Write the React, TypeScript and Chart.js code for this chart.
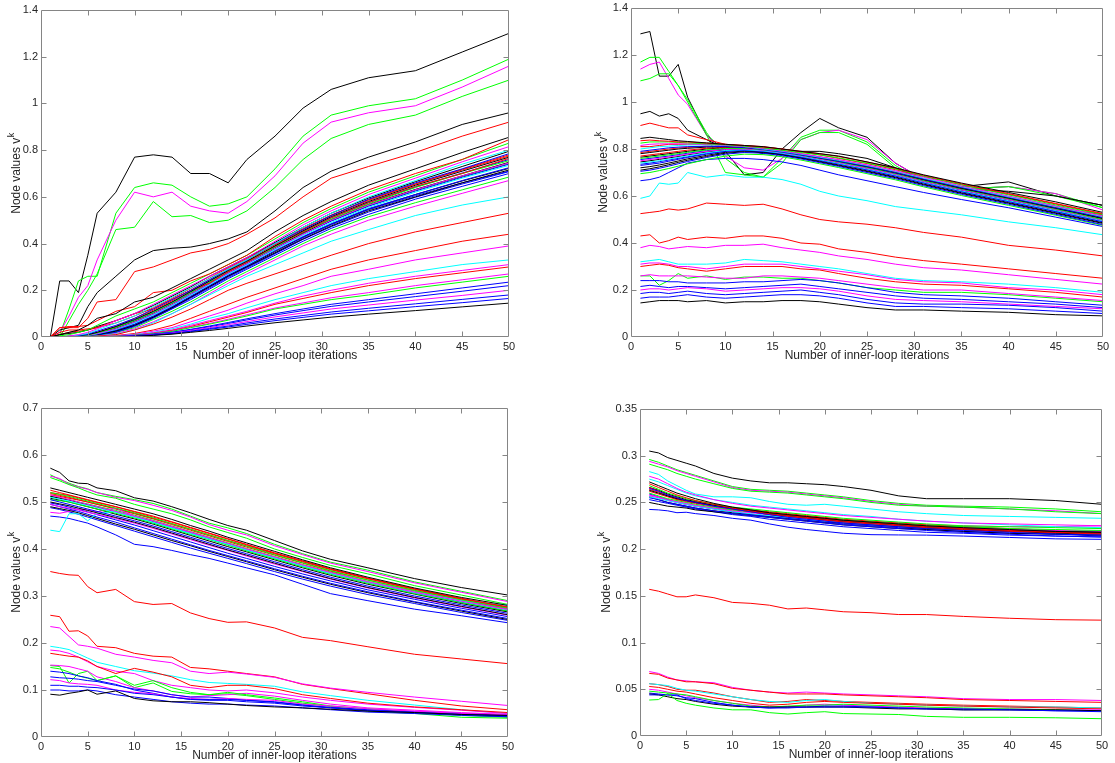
import { useEffect, useRef } from "react";
import { Chart, registerables } from "chart.js";

Chart.register(...registerables);

// Inner-loop iteration numbers at which node values are recorded
const iterations = [1, 2, 3, 4, 5, 6, 8, 10, 12, 14, 16, 18, 20, 22, 25, 28, 31, 35, 40, 45, 50];

const palette: Record<string, string> = {
  b: "#0000ff",
  g: "#00ff00",
  r: "#ff0000",
  c: "#00ffff",
  m: "#ff00ff",
  k: "#000000",
};

const xTitle = "Number of inner-loop iterations";
const yTitleMain = "Node values v";
const yTitleSup = "k";
const xTicks = { min: 0, max: 50, step: 5 };

type Line = [string, number[]];

// Panel 1 (top left): node values growing from zero
const runA: Line[] = [
  ["k", [0, 0, 0, 0, 0, 0, 0.001, 0.003, 0.007, 0.012, 0.02, 0.028, 0.037, 0.047, 0.061, 0.073, 0.085, 0.098, 0.113, 0.129, 0.145]],
  ["b", [0, 0, 0, 0, 0, 0, 0.001, 0.004, 0.008, 0.014, 0.023, 0.033, 0.043, 0.054, 0.07, 0.084, 0.098, 0.112, 0.13, 0.147, 0.165]],
  ["b", [0, 0, 0, 0, 0, 0, 0.001, 0.004, 0.009, 0.015, 0.025, 0.036, 0.047, 0.06, 0.077, 0.092, 0.107, 0.123, 0.142, 0.161, 0.18]],
  ["m", [0, 0, 0, 0, 0, 0, 0.002, 0.005, 0.01, 0.017, 0.028, 0.04, 0.053, 0.066, 0.086, 0.103, 0.12, 0.137, 0.158, 0.178, 0.2]],
  ["b", [0, 0, 0, 0, 0, 0, 0.002, 0.005, 0.011, 0.019, 0.031, 0.044, 0.058, 0.073, 0.094, 0.113, 0.131, 0.15, 0.173, 0.196, 0.22]],
  ["b", [0, 0, 0, 0, 0, 0, 0.002, 0.006, 0.012, 0.02, 0.033, 0.047, 0.062, 0.078, 0.1, 0.12, 0.14, 0.16, 0.185, 0.21, 0.235]],
  ["g", [0, 0, 0, 0, 0, 0.001, 0.003, 0.007, 0.014, 0.024, 0.04, 0.055, 0.072, 0.09, 0.12, 0.14, 0.16, 0.18, 0.21, 0.235, 0.26]],
  ["m", [0, 0, 0, 0, 0, 0.001, 0.003, 0.007, 0.015, 0.026, 0.042, 0.058, 0.076, 0.095, 0.124, 0.146, 0.168, 0.19, 0.22, 0.245, 0.27]],
  ["r", [0, 0, 0, 0, 0, 0.001, 0.003, 0.008, 0.016, 0.028, 0.045, 0.065, 0.085, 0.105, 0.14, 0.165, 0.19, 0.22, 0.25, 0.275, 0.3]],
  ["m", [0, 0, 0, 0, 0, 0.001, 0.003, 0.008, 0.018, 0.03, 0.05, 0.07, 0.09, 0.11, 0.145, 0.175, 0.2, 0.23, 0.26, 0.285, 0.31]],
  ["c", [0, 0, 0, 0, 0, 0.001, 0.004, 0.01, 0.02, 0.035, 0.055, 0.08, 0.1, 0.125, 0.16, 0.19, 0.22, 0.25, 0.28, 0.31, 0.33]],
  ["m", [0, 0, 0, 0, 0, 0.002, 0.005, 0.012, 0.025, 0.04, 0.065, 0.09, 0.115, 0.145, 0.185, 0.22, 0.26, 0.29, 0.33, 0.36, 0.39]],
  ["r", [0, 0, 0, 0, 0, 0.002, 0.006, 0.015, 0.03, 0.05, 0.08, 0.11, 0.14, 0.17, 0.21, 0.25, 0.29, 0.33, 0.37, 0.41, 0.44]],
  ["r", [0, 0, 0, 0, 0.002, 0.004, 0.01, 0.03, 0.055, 0.085, 0.12, 0.16, 0.2, 0.23, 0.27, 0.31, 0.35, 0.4, 0.45, 0.49, 0.53]],
  ["c", [0, 0, 0, 0, 0.002, 0.005, 0.012, 0.03, 0.06, 0.1, 0.14, 0.18, 0.22, 0.26, 0.31, 0.36, 0.41, 0.46, 0.52, 0.565, 0.6]],
  ["k", [0, 0.01, 0.02, 0.03, 0.05, 0.08, 0.1, 0.15, 0.17, 0.21, 0.25, 0.29, 0.33, 0.37, 0.45, 0.52, 0.58, 0.65, 0.72, 0.79, 0.855]],
  ["r", [0, 0.04, 0.045, 0.045, 0.05, 0.07, 0.11, 0.13, 0.19, 0.2, 0.24, 0.27, 0.31, 0.35, 0.43, 0.5, 0.56, 0.63, 0.7, 0.76, 0.845]],
  ["g", [0, 0.005, 0.01, 0.02, 0.03, 0.05, 0.09, 0.12, 0.15, 0.19, 0.23, 0.27, 0.31, 0.35, 0.42, 0.49, 0.55, 0.62, 0.69, 0.76, 0.83]],
  ["m", [0, 0, 0.005, 0.01, 0.02, 0.035, 0.07, 0.1, 0.14, 0.18, 0.22, 0.26, 0.3, 0.34, 0.41, 0.48, 0.54, 0.61, 0.68, 0.75, 0.815]],
  ["c", [0, 0, 0.004, 0.008, 0.015, 0.03, 0.06, 0.09, 0.13, 0.17, 0.21, 0.25, 0.29, 0.33, 0.4, 0.47, 0.53, 0.6, 0.67, 0.74, 0.8]],
  ["b", [0, 0, 0.003, 0.006, 0.012, 0.025, 0.05, 0.08, 0.12, 0.16, 0.2, 0.245, 0.29, 0.33, 0.4, 0.46, 0.52, 0.59, 0.66, 0.72, 0.785]],
  ["k", [0, 0, 0.003, 0.006, 0.01, 0.02, 0.045, 0.075, 0.11, 0.15, 0.195, 0.24, 0.285, 0.325, 0.39, 0.455, 0.515, 0.58, 0.65, 0.71, 0.77]],
  ["r", [0, 0.02, 0.03, 0.03, 0.035, 0.04, 0.07, 0.1, 0.12, 0.16, 0.2, 0.23, 0.28, 0.32, 0.39, 0.45, 0.51, 0.575, 0.645, 0.7, 0.765]],
  ["g", [0, 0, 0.002, 0.005, 0.009, 0.018, 0.04, 0.07, 0.105, 0.145, 0.19, 0.235, 0.28, 0.32, 0.385, 0.45, 0.505, 0.57, 0.64, 0.7, 0.755]],
  ["m", [0, 0, 0.002, 0.004, 0.008, 0.015, 0.035, 0.065, 0.1, 0.14, 0.185, 0.23, 0.275, 0.315, 0.38, 0.44, 0.5, 0.565, 0.63, 0.69, 0.745]],
  ["c", [0, 0, 0.002, 0.004, 0.007, 0.014, 0.032, 0.06, 0.095, 0.135, 0.18, 0.225, 0.27, 0.31, 0.375, 0.435, 0.49, 0.555, 0.62, 0.68, 0.735]],
  ["b", [0, 0, 0.001, 0.003, 0.006, 0.012, 0.03, 0.055, 0.09, 0.13, 0.175, 0.22, 0.265, 0.305, 0.37, 0.43, 0.485, 0.55, 0.61, 0.67, 0.725]],
  ["k", [0, 0, 0.001, 0.003, 0.005, 0.01, 0.025, 0.05, 0.085, 0.125, 0.17, 0.215, 0.26, 0.3, 0.36, 0.42, 0.475, 0.54, 0.6, 0.66, 0.715]],
  ["b", [0, 0, 0.001, 0.002, 0.004, 0.008, 0.02, 0.045, 0.08, 0.12, 0.16, 0.205, 0.25, 0.29, 0.35, 0.41, 0.465, 0.525, 0.59, 0.645, 0.7]],
  ["g", [0, 0, 0.001, 0.002, 0.004, 0.008, 0.02, 0.04, 0.075, 0.11, 0.15, 0.195, 0.24, 0.28, 0.34, 0.4, 0.455, 0.515, 0.575, 0.63, 0.685]],
  ["m", [0, 0, 0, 0.002, 0.003, 0.006, 0.015, 0.035, 0.065, 0.1, 0.14, 0.185, 0.23, 0.27, 0.33, 0.39, 0.44, 0.5, 0.56, 0.615, 0.67]],
  ["b", [0, 0, 0.001, 0.002, 0.004, 0.008, 0.022, 0.048, 0.085, 0.125, 0.17, 0.215, 0.26, 0.3, 0.36, 0.425, 0.48, 0.545, 0.605, 0.66, 0.71]],
  ["r", [0, 0, 0.002, 0.005, 0.01, 0.02, 0.045, 0.08, 0.115, 0.155, 0.2, 0.245, 0.29, 0.33, 0.395, 0.46, 0.52, 0.585, 0.655, 0.715, 0.775]],
  ["k", [0, 0, 0.002, 0.004, 0.008, 0.016, 0.038, 0.068, 0.102, 0.142, 0.186, 0.232, 0.277, 0.317, 0.382, 0.446, 0.502, 0.567, 0.632, 0.69, 0.748]],
  ["b", [0, 0, 0.002, 0.004, 0.007, 0.014, 0.034, 0.062, 0.097, 0.137, 0.181, 0.227, 0.272, 0.312, 0.377, 0.44, 0.496, 0.56, 0.625, 0.684, 0.74]],
  ["k", [0, 0, 0.001, 0.003, 0.006, 0.012, 0.028, 0.054, 0.088, 0.128, 0.172, 0.218, 0.263, 0.303, 0.366, 0.428, 0.483, 0.547, 0.61, 0.668, 0.722]],
  ["b", [0, 0, 0.002, 0.005, 0.009, 0.018, 0.042, 0.072, 0.108, 0.148, 0.193, 0.238, 0.283, 0.323, 0.388, 0.452, 0.51, 0.575, 0.642, 0.702, 0.76]],
  ["k", [0, 0.01, 0.015, 0.02, 0.03, 0.045, 0.07, 0.1, 0.135, 0.175, 0.215, 0.26, 0.3, 0.34, 0.405, 0.47, 0.53, 0.595, 0.665, 0.73, 0.795]],
  ["b", [0, 0, 0.001, 0.002, 0.005, 0.01, 0.026, 0.05, 0.083, 0.122, 0.166, 0.21, 0.255, 0.295, 0.356, 0.418, 0.472, 0.535, 0.598, 0.655, 0.708]],
  ["g", [0, 0, 0.002, 0.004, 0.008, 0.016, 0.036, 0.066, 0.1, 0.14, 0.184, 0.229, 0.274, 0.314, 0.378, 0.442, 0.498, 0.562, 0.628, 0.687, 0.742]],
  ["r", [0, 0.01, 0.02, 0.025, 0.03, 0.04, 0.06, 0.09, 0.125, 0.165, 0.208, 0.252, 0.296, 0.336, 0.4, 0.464, 0.522, 0.588, 0.656, 0.718, 0.78]],
  ["r", [0, 0.04, 0.04, 0.04, 0.08, 0.15, 0.16, 0.28, 0.3, 0.33, 0.36, 0.375, 0.4, 0.44, 0.51, 0.6, 0.68, 0.73, 0.79, 0.86, 0.92]],
  ["k", [0, 0.03, 0.04, 0.05, 0.13, 0.19, 0.26, 0.33, 0.37, 0.38, 0.385, 0.4, 0.42, 0.45, 0.54, 0.64, 0.71, 0.77, 0.835, 0.91, 0.96]],
  ["g", [0, 0, 0.07, 0.14, 0.2, 0.27, 0.46, 0.47, 0.58, 0.515, 0.52, 0.49, 0.5, 0.54, 0.64, 0.76, 0.85, 0.91, 0.95, 1.03, 1.1]],
  ["m", [0, 0.02, 0.09, 0.17, 0.22, 0.33, 0.5, 0.62, 0.6, 0.62, 0.56, 0.54, 0.53, 0.58, 0.69, 0.83, 0.92, 0.96, 0.99, 1.07, 1.16]],
  ["g", [0, 0.01, 0.12, 0.24, 0.26, 0.26, 0.53, 0.64, 0.66, 0.65, 0.6, 0.56, 0.57, 0.6, 0.72, 0.86, 0.95, 0.99, 1.02, 1.1, 1.19]],
  ["k", [0, 0.24, 0.24, 0.19, 0.35, 0.53, 0.62, 0.77, 0.78, 0.77, 0.7, 0.7, 0.66, 0.76, 0.86, 0.98, 1.06, 1.11, 1.14, 1.22, 1.3]],
];

// Panel 2 (top right)
const runB: Line[] = [
  ["k", [0.145, 0.15, 0.155, 0.155, 0.155, 0.15, 0.155, 0.145, 0.15, 0.15, 0.155, 0.155, 0.15, 0.14, 0.125, 0.115, 0.115, 0.11, 0.105, 0.095, 0.09]],
  ["b", [0.165, 0.17, 0.17, 0.17, 0.175, 0.18, 0.17, 0.165, 0.17, 0.175, 0.18, 0.18, 0.175, 0.165, 0.145, 0.13, 0.13, 0.125, 0.12, 0.11, 0.1]],
  ["b", [0.185, 0.19, 0.19, 0.185, 0.19, 0.195, 0.185, 0.18, 0.185, 0.19, 0.195, 0.2, 0.19, 0.18, 0.16, 0.145, 0.14, 0.14, 0.135, 0.125, 0.11]],
  ["m", [0.2, 0.205, 0.205, 0.2, 0.205, 0.21, 0.205, 0.195, 0.2, 0.205, 0.21, 0.21, 0.205, 0.195, 0.175, 0.16, 0.155, 0.15, 0.14, 0.13, 0.12]],
  ["b", [0.215, 0.22, 0.215, 0.21, 0.215, 0.215, 0.21, 0.205, 0.21, 0.215, 0.22, 0.225, 0.215, 0.205, 0.19, 0.175, 0.165, 0.16, 0.15, 0.14, 0.125]],
  ["b", [0.24, 0.24, 0.24, 0.235, 0.235, 0.23, 0.23, 0.23, 0.235, 0.235, 0.24, 0.245, 0.24, 0.23, 0.21, 0.19, 0.18, 0.175, 0.165, 0.15, 0.135]],
  ["m", [0.26, 0.265, 0.26, 0.26, 0.26, 0.26, 0.255, 0.25, 0.25, 0.26, 0.26, 0.255, 0.25, 0.24, 0.225, 0.21, 0.2, 0.2, 0.185, 0.17, 0.155]],
  ["g", [0.26, 0.26, 0.22, 0.24, 0.27, 0.25, 0.26, 0.245, 0.255, 0.255, 0.25, 0.25, 0.24, 0.23, 0.21, 0.2, 0.19, 0.19, 0.18, 0.165, 0.15]],
  ["r", [0.3, 0.305, 0.31, 0.305, 0.295, 0.29, 0.28, 0.29, 0.3, 0.3, 0.3, 0.29, 0.285, 0.27, 0.25, 0.235, 0.225, 0.22, 0.205, 0.19, 0.17]],
  ["m", [0.31, 0.315, 0.315, 0.31, 0.3, 0.3, 0.29, 0.3, 0.31, 0.31, 0.31, 0.3, 0.29, 0.28, 0.265, 0.245, 0.235, 0.23, 0.21, 0.2, 0.18]],
  ["c", [0.32, 0.325, 0.33, 0.32, 0.31, 0.31, 0.31, 0.315, 0.33, 0.325, 0.32, 0.31, 0.3, 0.29, 0.27, 0.25, 0.24, 0.235, 0.225, 0.21, 0.19]],
  ["m", [0.38, 0.39, 0.385, 0.375, 0.38, 0.385, 0.38, 0.39, 0.39, 0.395, 0.38, 0.37, 0.36, 0.345, 0.33, 0.31, 0.295, 0.285, 0.265, 0.245, 0.225]],
  ["r", [0.43, 0.435, 0.4, 0.41, 0.425, 0.415, 0.425, 0.42, 0.43, 0.43, 0.42, 0.4, 0.395, 0.375, 0.36, 0.34, 0.325, 0.31, 0.29, 0.27, 0.25]],
  ["r", [0.525, 0.53, 0.535, 0.545, 0.54, 0.545, 0.57, 0.565, 0.56, 0.565, 0.545, 0.52, 0.5, 0.49, 0.48, 0.465, 0.445, 0.425, 0.39, 0.37, 0.345]],
  ["c", [0.59, 0.6, 0.655, 0.65, 0.655, 0.7, 0.68, 0.69, 0.68, 0.68, 0.67, 0.65, 0.62, 0.6, 0.58, 0.555, 0.54, 0.52, 0.49, 0.465, 0.435]],
  ["k", [0.845, 0.85, 0.845, 0.84, 0.835, 0.832, 0.826, 0.82, 0.815, 0.81, 0.8, 0.79, 0.78, 0.77, 0.745, 0.72, 0.69, 0.655, 0.615, 0.575, 0.53]],
  ["r", [0.835, 0.838, 0.835, 0.833, 0.83, 0.83, 0.825, 0.82, 0.815, 0.808, 0.8, 0.79, 0.78, 0.768, 0.745, 0.718, 0.688, 0.652, 0.61, 0.568, 0.525]],
  ["g", [0.825, 0.83, 0.83, 0.83, 0.828, 0.826, 0.822, 0.818, 0.812, 0.805, 0.795, 0.785, 0.775, 0.762, 0.74, 0.715, 0.685, 0.648, 0.605, 0.562, 0.52]],
  ["m", [0.815, 0.82, 0.822, 0.822, 0.822, 0.822, 0.82, 0.816, 0.81, 0.802, 0.792, 0.78, 0.768, 0.755, 0.733, 0.708, 0.68, 0.643, 0.6, 0.558, 0.515]],
  ["c", [0.8, 0.805, 0.81, 0.812, 0.815, 0.817, 0.818, 0.815, 0.81, 0.8, 0.79, 0.778, 0.765, 0.752, 0.73, 0.705, 0.676, 0.64, 0.597, 0.555, 0.512]],
  ["b", [0.79, 0.795, 0.8, 0.805, 0.808, 0.81, 0.812, 0.81, 0.806, 0.798, 0.787, 0.775, 0.762, 0.748, 0.726, 0.7, 0.672, 0.636, 0.594, 0.55, 0.508]],
  ["k", [0.78, 0.785, 0.79, 0.795, 0.8, 0.803, 0.808, 0.81, 0.808, 0.8, 0.79, 0.776, 0.762, 0.748, 0.725, 0.699, 0.67, 0.633, 0.591, 0.548, 0.505]],
  ["r", [0.77, 0.775, 0.78, 0.785, 0.79, 0.795, 0.803, 0.807, 0.806, 0.8, 0.79, 0.777, 0.763, 0.749, 0.726, 0.7, 0.67, 0.634, 0.592, 0.552, 0.51]],
  ["g", [0.76, 0.765, 0.77, 0.775, 0.78, 0.786, 0.796, 0.802, 0.803, 0.797, 0.787, 0.774, 0.76, 0.745, 0.722, 0.696, 0.666, 0.63, 0.588, 0.545, 0.5]],
  ["m", [0.75, 0.755, 0.76, 0.766, 0.772, 0.778, 0.79, 0.798, 0.8, 0.795, 0.785, 0.772, 0.757, 0.742, 0.718, 0.692, 0.662, 0.626, 0.584, 0.542, 0.497]],
  ["c", [0.74, 0.745, 0.75, 0.757, 0.764, 0.771, 0.784, 0.794, 0.797, 0.792, 0.782, 0.769, 0.754, 0.739, 0.715, 0.689, 0.659, 0.622, 0.58, 0.538, 0.494]],
  ["b", [0.73, 0.735, 0.74, 0.748, 0.756, 0.764, 0.778, 0.79, 0.794, 0.79, 0.78, 0.766, 0.751, 0.736, 0.711, 0.685, 0.655, 0.618, 0.576, 0.533, 0.49]],
  ["k", [0.72, 0.725, 0.732, 0.74, 0.749, 0.758, 0.773, 0.786, 0.791, 0.787, 0.777, 0.763, 0.748, 0.732, 0.707, 0.681, 0.651, 0.614, 0.572, 0.529, 0.486]],
  ["b", [0.705, 0.71, 0.718, 0.727, 0.737, 0.747, 0.764, 0.778, 0.785, 0.782, 0.772, 0.758, 0.742, 0.726, 0.7, 0.674, 0.644, 0.607, 0.565, 0.522, 0.478]],
  ["g", [0.695, 0.7, 0.708, 0.717, 0.727, 0.737, 0.755, 0.77, 0.778, 0.776, 0.767, 0.753, 0.737, 0.721, 0.695, 0.669, 0.639, 0.602, 0.56, 0.518, 0.475]],
  ["b", [0.665, 0.67, 0.68, 0.7, 0.72, 0.74, 0.755, 0.76, 0.76, 0.755, 0.745, 0.73, 0.71, 0.69, 0.665, 0.64, 0.615, 0.585, 0.55, 0.51, 0.47]],
  ["r", [0.81, 0.81, 0.815, 0.82, 0.82, 0.82, 0.82, 0.818, 0.815, 0.81, 0.8, 0.788, 0.775, 0.76, 0.738, 0.712, 0.683, 0.648, 0.607, 0.566, 0.522]],
  ["k", [0.765, 0.77, 0.775, 0.78, 0.785, 0.79, 0.8, 0.806, 0.806, 0.8, 0.79, 0.776, 0.762, 0.747, 0.724, 0.698, 0.668, 0.632, 0.59, 0.547, 0.503]],
  ["b", [0.755, 0.76, 0.765, 0.77, 0.776, 0.782, 0.793, 0.8, 0.801, 0.796, 0.786, 0.772, 0.758, 0.743, 0.72, 0.694, 0.664, 0.628, 0.586, 0.543, 0.499]],
  ["k", [0.745, 0.75, 0.756, 0.762, 0.768, 0.775, 0.787, 0.796, 0.798, 0.793, 0.783, 0.77, 0.755, 0.74, 0.716, 0.69, 0.66, 0.624, 0.582, 0.539, 0.495]],
  ["b", [0.735, 0.74, 0.746, 0.753, 0.76, 0.767, 0.781, 0.792, 0.795, 0.79, 0.78, 0.767, 0.752, 0.737, 0.713, 0.687, 0.657, 0.62, 0.578, 0.535, 0.492]],
  ["r", [0.785, 0.79, 0.795, 0.8, 0.804, 0.807, 0.812, 0.813, 0.81, 0.803, 0.793, 0.78, 0.766, 0.752, 0.729, 0.703, 0.674, 0.638, 0.596, 0.556, 0.514]],
  ["k", [0.71, 0.716, 0.724, 0.733, 0.743, 0.752, 0.768, 0.782, 0.788, 0.785, 0.775, 0.761, 0.745, 0.729, 0.704, 0.678, 0.648, 0.611, 0.569, 0.526, 0.483]],
  ["r", [0.9, 0.91, 0.9, 0.89, 0.89, 0.86, 0.84, 0.82, 0.81, 0.8, 0.79, 0.77, 0.76, 0.75, 0.73, 0.7, 0.66, 0.62, 0.58, 0.55, 0.52]],
  ["k", [0.95, 0.96, 0.94, 0.95, 0.93, 0.88, 0.84, 0.8, 0.8, 0.78, 0.78, 0.79, 0.79, 0.78, 0.76, 0.72, 0.67, 0.63, 0.62, 0.6, 0.56]],
  ["g", [1.09, 1.1, 1.12, 1.12, 1.07, 1.0, 0.86, 0.7, 0.69, 0.68, 0.74, 0.84, 0.87, 0.87, 0.82, 0.72, 0.66, 0.63, 0.64, 0.6, 0.55]],
  ["m", [1.14, 1.16, 1.17, 1.1, 1.03, 0.99, 0.86, 0.77, 0.72, 0.71, 0.76, 0.84, 0.87, 0.88, 0.84, 0.74, 0.67, 0.63, 0.64, 0.61, 0.54]],
  ["g", [1.17, 1.19, 1.19, 1.13, 1.07, 1.01, 0.87, 0.76, 0.7, 0.68, 0.76, 0.85, 0.88, 0.88, 0.83, 0.73, 0.66, 0.63, 0.64, 0.61, 0.55]],
  ["k", [1.29, 1.3, 1.11, 1.11, 1.16, 1.02, 0.86, 0.79, 0.69, 0.7, 0.8, 0.87, 0.93, 0.89, 0.85, 0.74, 0.67, 0.64, 0.66, 0.6, 0.56]],
];

// Panel 3 (bottom left)
const runC: Line[] = [
  ["k", [0.091, 0.089, 0.093, 0.096, 0.1, 0.091, 0.098, 0.082, 0.077, 0.075, 0.075, 0.073, 0.07, 0.067, 0.064, 0.062, 0.059, 0.055, 0.052, 0.048, 0.046]],
  ["b", [0.1, 0.1, 0.098, 0.098, 0.1, 0.098, 0.09, 0.085, 0.08, 0.075, 0.072, 0.07, 0.07, 0.068, 0.066, 0.062, 0.058, 0.053, 0.05, 0.046, 0.043]],
  ["b", [0.11, 0.11, 0.108, 0.108, 0.106, 0.105, 0.1, 0.093, 0.09, 0.085, 0.08, 0.08, 0.08, 0.078, 0.075, 0.068, 0.062, 0.057, 0.052, 0.048, 0.044]],
  ["m", [0.122, 0.12, 0.115, 0.113, 0.112, 0.11, 0.1, 0.095, 0.092, 0.085, 0.082, 0.08, 0.082, 0.08, 0.078, 0.07, 0.066, 0.06, 0.055, 0.05, 0.048]],
  ["b", [0.128, 0.126, 0.125, 0.123, 0.12, 0.118, 0.11, 0.102, 0.098, 0.09, 0.085, 0.085, 0.082, 0.078, 0.074, 0.068, 0.063, 0.058, 0.054, 0.05, 0.046]],
  ["b", [0.14, 0.138, 0.135, 0.13, 0.126, 0.12, 0.112, 0.1, 0.093, 0.085, 0.08, 0.078, 0.078, 0.075, 0.072, 0.066, 0.062, 0.056, 0.052, 0.048, 0.045]],
  ["g", [0.148, 0.145, 0.138, 0.13, 0.125, 0.12, 0.13, 0.11, 0.12, 0.105, 0.095, 0.09, 0.095, 0.09, 0.083, 0.075, 0.066, 0.06, 0.053, 0.046, 0.042]],
  ["m", [0.153, 0.152, 0.15, 0.145, 0.14, 0.128, 0.118, 0.105, 0.098, 0.09, 0.085, 0.088, 0.09, 0.093, 0.087, 0.078, 0.07, 0.062, 0.057, 0.052, 0.048]],
  ["g", [0.152, 0.15, 0.115, 0.135, 0.14, 0.12, 0.13, 0.105, 0.115, 0.097, 0.092, 0.09, 0.092, 0.088, 0.08, 0.072, 0.065, 0.055, 0.05, 0.042, 0.04]],
  ["r", [0.178, 0.175, 0.172, 0.17, 0.162, 0.15, 0.135, 0.146, 0.138, 0.128, 0.11, 0.105, 0.11, 0.11, 0.103, 0.09, 0.082, 0.072, 0.064, 0.058, 0.052]],
  ["m", [0.185, 0.183, 0.178, 0.17, 0.16, 0.15, 0.14, 0.135, 0.12, 0.11, 0.105, 0.1, 0.098, 0.1, 0.094, 0.085, 0.078, 0.07, 0.063, 0.057, 0.05]],
  ["c", [0.193, 0.19, 0.186, 0.177, 0.168, 0.159, 0.15, 0.141, 0.136, 0.13, 0.122, 0.116, 0.114, 0.112, 0.108, 0.096, 0.088, 0.078, 0.068, 0.058, 0.05]],
  ["m", [0.235, 0.232, 0.214, 0.196, 0.193, 0.189, 0.176, 0.17, 0.163, 0.158, 0.14, 0.135, 0.138, 0.134, 0.127, 0.113, 0.104, 0.095, 0.085, 0.076, 0.067]],
  ["r", [0.259, 0.256, 0.225, 0.226, 0.215, 0.193, 0.19, 0.178, 0.172, 0.17, 0.148, 0.145, 0.14, 0.135, 0.128, 0.112, 0.103, 0.092, 0.078, 0.066, 0.058]],
  ["r", [0.352, 0.348, 0.345, 0.344, 0.32, 0.307, 0.314, 0.288, 0.282, 0.284, 0.264, 0.252, 0.244, 0.245, 0.232, 0.212, 0.205, 0.192, 0.176, 0.166, 0.156]],
  ["k", [0.53, 0.525, 0.52, 0.515, 0.51, 0.505, 0.495, 0.485, 0.475, 0.463, 0.45, 0.438, 0.425, 0.413, 0.395, 0.377, 0.36, 0.34, 0.317, 0.297, 0.28]],
  ["r", [0.525, 0.52, 0.515, 0.51, 0.505, 0.5, 0.49, 0.48, 0.47, 0.458, 0.446, 0.434, 0.422, 0.41, 0.392, 0.375, 0.358, 0.338, 0.315, 0.294, 0.277]],
  ["g", [0.52, 0.516, 0.512, 0.507, 0.502, 0.497, 0.487, 0.477, 0.466, 0.454, 0.442, 0.43, 0.418, 0.406, 0.388, 0.371, 0.354, 0.334, 0.312, 0.292, 0.274]],
  ["m", [0.515, 0.51, 0.505, 0.5, 0.495, 0.49, 0.48, 0.47, 0.46, 0.448, 0.436, 0.424, 0.412, 0.4, 0.383, 0.366, 0.35, 0.33, 0.308, 0.289, 0.271]],
  ["c", [0.51, 0.506, 0.502, 0.497, 0.493, 0.488, 0.478, 0.468, 0.457, 0.445, 0.433, 0.421, 0.41, 0.398, 0.381, 0.364, 0.348, 0.329, 0.307, 0.288, 0.27]],
  ["b", [0.505, 0.5, 0.495, 0.49, 0.485, 0.48, 0.47, 0.46, 0.449, 0.437, 0.425, 0.413, 0.401, 0.39, 0.373, 0.356, 0.34, 0.321, 0.3, 0.281, 0.263]],
  ["k", [0.5, 0.496, 0.492, 0.487, 0.482, 0.477, 0.467, 0.457, 0.446, 0.434, 0.422, 0.41, 0.398, 0.387, 0.37, 0.353, 0.337, 0.318, 0.297, 0.278, 0.26]],
  ["r", [0.52, 0.517, 0.514, 0.509, 0.504, 0.499, 0.49, 0.479, 0.468, 0.457, 0.445, 0.433, 0.421, 0.409, 0.391, 0.374, 0.357, 0.337, 0.315, 0.295, 0.276]],
  ["g", [0.505, 0.503, 0.5, 0.495, 0.49, 0.485, 0.476, 0.466, 0.455, 0.443, 0.431, 0.42, 0.408, 0.396, 0.379, 0.362, 0.346, 0.327, 0.305, 0.286, 0.268]],
  ["m", [0.495, 0.49, 0.487, 0.483, 0.478, 0.474, 0.465, 0.455, 0.444, 0.432, 0.42, 0.408, 0.397, 0.385, 0.368, 0.352, 0.336, 0.317, 0.296, 0.277, 0.259]],
  ["c", [0.44, 0.437, 0.475, 0.475, 0.46, 0.475, 0.48, 0.468, 0.455, 0.445, 0.433, 0.421, 0.41, 0.398, 0.381, 0.364, 0.349, 0.33, 0.308, 0.29, 0.28]],
  ["b", [0.495, 0.49, 0.485, 0.48, 0.474, 0.468, 0.457, 0.445, 0.433, 0.421, 0.409, 0.397, 0.386, 0.375, 0.358, 0.342, 0.327, 0.309, 0.288, 0.27, 0.252]],
  ["k", [0.49, 0.486, 0.482, 0.477, 0.471, 0.465, 0.453, 0.442, 0.43, 0.418, 0.407, 0.395, 0.384, 0.373, 0.356, 0.34, 0.325, 0.307, 0.287, 0.268, 0.25]],
  ["b", [0.47, 0.468, 0.465, 0.46, 0.455, 0.447, 0.43, 0.41, 0.405, 0.397, 0.388, 0.38, 0.37, 0.36, 0.345, 0.325, 0.305, 0.29, 0.272, 0.258, 0.243]],
  ["m", [0.478, 0.476, 0.48, 0.485, 0.483, 0.479, 0.487, 0.47, 0.457, 0.447, 0.435, 0.423, 0.411, 0.399, 0.382, 0.365, 0.349, 0.33, 0.309, 0.29, 0.273]],
  ["r", [0.515, 0.512, 0.508, 0.504, 0.5, 0.495, 0.486, 0.476, 0.465, 0.454, 0.442, 0.43, 0.418, 0.407, 0.39, 0.373, 0.356, 0.337, 0.314, 0.294, 0.275]],
  ["k", [0.512, 0.508, 0.504, 0.499, 0.494, 0.489, 0.479, 0.469, 0.458, 0.446, 0.434, 0.422, 0.41, 0.398, 0.381, 0.364, 0.348, 0.329, 0.307, 0.287, 0.268]],
  ["b", [0.498, 0.494, 0.489, 0.484, 0.479, 0.473, 0.462, 0.451, 0.439, 0.427, 0.415, 0.403, 0.391, 0.38, 0.363, 0.347, 0.332, 0.313, 0.293, 0.274, 0.256]],
  ["k", [0.508, 0.504, 0.5, 0.495, 0.49, 0.485, 0.474, 0.464, 0.453, 0.441, 0.429, 0.417, 0.405, 0.394, 0.377, 0.36, 0.344, 0.325, 0.304, 0.284, 0.266]],
  ["b", [0.488, 0.484, 0.479, 0.474, 0.468, 0.462, 0.45, 0.438, 0.426, 0.414, 0.402, 0.391, 0.38, 0.369, 0.352, 0.336, 0.321, 0.303, 0.284, 0.265, 0.248]],
  ["r", [0.518, 0.514, 0.51, 0.505, 0.5, 0.495, 0.485, 0.475, 0.464, 0.452, 0.44, 0.428, 0.416, 0.404, 0.387, 0.37, 0.353, 0.334, 0.312, 0.292, 0.273]],
  ["g", [0.512, 0.509, 0.505, 0.5, 0.496, 0.491, 0.482, 0.472, 0.461, 0.449, 0.437, 0.425, 0.413, 0.401, 0.384, 0.367, 0.351, 0.331, 0.31, 0.29, 0.272]],
  ["g", [0.552, 0.545, 0.537, 0.53, 0.522, 0.515, 0.508, 0.495, 0.485, 0.475, 0.462, 0.447, 0.435, 0.423, 0.4, 0.382, 0.365, 0.347, 0.322, 0.302, 0.282]],
  ["m", [0.555, 0.55, 0.538, 0.532, 0.527, 0.52, 0.51, 0.503, 0.493, 0.482, 0.468, 0.452, 0.44, 0.43, 0.407, 0.388, 0.37, 0.352, 0.328, 0.308, 0.288]],
  ["g", [0.558, 0.548, 0.54, 0.533, 0.528, 0.52, 0.512, 0.505, 0.497, 0.485, 0.47, 0.455, 0.445, 0.433, 0.41, 0.39, 0.372, 0.355, 0.33, 0.31, 0.29]],
  ["k", [0.572, 0.563, 0.545, 0.54, 0.539, 0.53, 0.524, 0.509, 0.502, 0.49, 0.477, 0.463, 0.45, 0.44, 0.418, 0.396, 0.378, 0.36, 0.337, 0.318, 0.302]],
];

// Panel 4 (bottom right)
const runD: Line[] = [
  ["g", [0.0385, 0.039, 0.0455, 0.038, 0.035, 0.033, 0.03, 0.028, 0.028, 0.025, 0.0235, 0.025, 0.026, 0.024, 0.0235, 0.023, 0.021, 0.02, 0.02, 0.0195, 0.0185]],
  ["b", [0.044, 0.044, 0.044, 0.044, 0.04, 0.038, 0.035, 0.033, 0.031, 0.03, 0.03, 0.031, 0.031, 0.031, 0.031, 0.03, 0.029, 0.029, 0.028, 0.027, 0.026]],
  ["k", [0.045, 0.044, 0.042, 0.04, 0.039, 0.037, 0.034, 0.032, 0.031, 0.031, 0.031, 0.031, 0.031, 0.031, 0.03, 0.029, 0.029, 0.028, 0.028, 0.028, 0.027]],
  ["b", [0.046, 0.045, 0.044, 0.043, 0.041, 0.04, 0.036, 0.033, 0.031, 0.03, 0.031, 0.031, 0.032, 0.032, 0.031, 0.03, 0.029, 0.028, 0.028, 0.027, 0.027]],
  ["g", [0.048, 0.047, 0.046, 0.045, 0.044, 0.042, 0.038, 0.035, 0.032, 0.031, 0.032, 0.033, 0.033, 0.034, 0.033, 0.032, 0.031, 0.03, 0.029, 0.028, 0.027]],
  ["m", [0.05, 0.049, 0.047, 0.045, 0.043, 0.041, 0.038, 0.035, 0.033, 0.031, 0.031, 0.033, 0.034, 0.033, 0.032, 0.031, 0.03, 0.029, 0.029, 0.028, 0.028]],
  ["r", [0.053, 0.052, 0.05, 0.048, 0.047, 0.045, 0.041, 0.038, 0.035, 0.033, 0.034, 0.036, 0.037, 0.036, 0.035, 0.034, 0.033, 0.032, 0.031, 0.03, 0.029]],
  ["c", [0.056, 0.055, 0.054, 0.051, 0.049, 0.048, 0.045, 0.042, 0.039, 0.037, 0.036, 0.038, 0.039, 0.037, 0.035, 0.034, 0.033, 0.032, 0.031, 0.031, 0.03]],
  ["r", [0.056, 0.055, 0.053, 0.05, 0.049, 0.049, 0.046, 0.042, 0.039, 0.036, 0.037, 0.039, 0.038, 0.037, 0.036, 0.035, 0.034, 0.033, 0.032, 0.031, 0.03]],
  ["r", [0.067, 0.066, 0.062, 0.06, 0.058, 0.058, 0.056, 0.051, 0.049, 0.047, 0.045, 0.045, 0.045, 0.044, 0.043, 0.042, 0.041, 0.039, 0.038, 0.037, 0.036]],
  ["m", [0.069, 0.067, 0.063, 0.06, 0.059, 0.058, 0.057, 0.052, 0.049, 0.047, 0.046, 0.047, 0.046, 0.045, 0.044, 0.043, 0.042, 0.04, 0.039, 0.039, 0.038]],
  ["r", [0.157, 0.155, 0.152, 0.149, 0.149, 0.151, 0.148, 0.143, 0.142, 0.14, 0.136, 0.137, 0.135, 0.133, 0.132, 0.13, 0.13, 0.128, 0.126, 0.1245, 0.124]],
  ["k", [0.272, 0.268, 0.264, 0.26, 0.257, 0.254, 0.249, 0.245, 0.242, 0.239, 0.237, 0.235, 0.233, 0.231, 0.229, 0.227, 0.225, 0.223, 0.221, 0.219, 0.218]],
  ["r", [0.27, 0.266, 0.262, 0.258, 0.255, 0.252, 0.248, 0.244, 0.241, 0.238, 0.236, 0.234, 0.232, 0.23, 0.228, 0.226, 0.224, 0.222, 0.22, 0.218, 0.217]],
  ["g", [0.268, 0.264, 0.26, 0.257, 0.254, 0.252, 0.248, 0.245, 0.243, 0.241, 0.239, 0.237, 0.235, 0.233, 0.231, 0.229, 0.227, 0.225, 0.224, 0.223, 0.222]],
  ["m", [0.278, 0.275, 0.27, 0.265, 0.261, 0.258, 0.253, 0.249, 0.246, 0.244, 0.242, 0.24, 0.238, 0.236, 0.234, 0.232, 0.23, 0.228, 0.227, 0.226, 0.225]],
  ["c", [0.275, 0.272, 0.268, 0.264, 0.26, 0.257, 0.253, 0.25, 0.247, 0.245, 0.243, 0.241, 0.239, 0.237, 0.235, 0.232, 0.23, 0.228, 0.226, 0.224, 0.223]],
  ["b", [0.265, 0.262, 0.258, 0.255, 0.252, 0.25, 0.246, 0.243, 0.24, 0.237, 0.234, 0.232, 0.23, 0.228, 0.226, 0.224, 0.222, 0.22, 0.218, 0.216, 0.215]],
  ["k", [0.263, 0.26, 0.257, 0.254, 0.252, 0.25, 0.247, 0.244, 0.241, 0.238, 0.236, 0.234, 0.232, 0.23, 0.228, 0.226, 0.224, 0.222, 0.22, 0.219, 0.218]],
  ["r", [0.262, 0.259, 0.256, 0.253, 0.251, 0.249, 0.246, 0.243, 0.24, 0.237, 0.235, 0.233, 0.231, 0.229, 0.227, 0.225, 0.223, 0.221, 0.219, 0.218, 0.216]],
  ["g", [0.26, 0.257, 0.254, 0.252, 0.25, 0.248, 0.245, 0.242, 0.24, 0.238, 0.236, 0.234, 0.232, 0.231, 0.229, 0.227, 0.225, 0.224, 0.222, 0.221, 0.22]],
  ["m", [0.258, 0.256, 0.253, 0.251, 0.249, 0.247, 0.244, 0.241, 0.239, 0.237, 0.235, 0.233, 0.231, 0.23, 0.228, 0.226, 0.224, 0.223, 0.221, 0.22, 0.219]],
  ["c", [0.256, 0.254, 0.252, 0.25, 0.248, 0.246, 0.243, 0.24, 0.238, 0.236, 0.234, 0.232, 0.23, 0.229, 0.227, 0.225, 0.224, 0.222, 0.221, 0.22, 0.219]],
  ["b", [0.255, 0.253, 0.25, 0.248, 0.246, 0.244, 0.241, 0.238, 0.236, 0.234, 0.232, 0.23, 0.228, 0.226, 0.224, 0.222, 0.22, 0.218, 0.216, 0.214, 0.213]],
  ["k", [0.25, 0.248, 0.246, 0.245, 0.244, 0.242, 0.24, 0.238, 0.236, 0.234, 0.232, 0.23, 0.228, 0.226, 0.224, 0.222, 0.221, 0.219, 0.217, 0.216, 0.215]],
  ["b", [0.253, 0.251, 0.249, 0.247, 0.245, 0.243, 0.24, 0.237, 0.235, 0.232, 0.23, 0.228, 0.226, 0.224, 0.222, 0.22, 0.218, 0.217, 0.215, 0.214, 0.213]],
  ["r", [0.266, 0.262, 0.258, 0.255, 0.252, 0.25, 0.247, 0.244, 0.242, 0.24, 0.238, 0.236, 0.234, 0.232, 0.23, 0.228, 0.226, 0.224, 0.222, 0.22, 0.219]],
  ["m", [0.257, 0.255, 0.252, 0.25, 0.248, 0.246, 0.244, 0.242, 0.24, 0.238, 0.236, 0.234, 0.233, 0.231, 0.229, 0.228, 0.226, 0.225, 0.224, 0.224, 0.225]],
  ["k", [0.266, 0.263, 0.259, 0.256, 0.253, 0.251, 0.247, 0.243, 0.24, 0.237, 0.235, 0.233, 0.231, 0.229, 0.227, 0.225, 0.223, 0.221, 0.219, 0.217, 0.216]],
  ["b", [0.259, 0.256, 0.253, 0.25, 0.248, 0.246, 0.243, 0.24, 0.237, 0.235, 0.233, 0.231, 0.229, 0.227, 0.225, 0.223, 0.221, 0.219, 0.217, 0.216, 0.214]],
  ["r", [0.264, 0.261, 0.257, 0.254, 0.252, 0.25, 0.246, 0.243, 0.241, 0.239, 0.237, 0.235, 0.233, 0.231, 0.229, 0.227, 0.225, 0.223, 0.221, 0.22, 0.218]],
  ["k", [0.256, 0.253, 0.25, 0.248, 0.246, 0.244, 0.241, 0.239, 0.237, 0.235, 0.233, 0.231, 0.229, 0.228, 0.226, 0.224, 0.222, 0.221, 0.219, 0.218, 0.217]],
  ["b", [0.2425, 0.242, 0.241, 0.239, 0.2395, 0.238, 0.236, 0.233, 0.231, 0.227, 0.2235, 0.221, 0.219, 0.217, 0.2155, 0.2152, 0.215, 0.214, 0.2125, 0.211, 0.2105]],
  ["c", [0.283, 0.28, 0.273, 0.268, 0.263, 0.259, 0.256, 0.256, 0.255, 0.251, 0.248, 0.247, 0.248, 0.246, 0.243, 0.24, 0.238, 0.236, 0.235, 0.234, 0.233]],
  ["g", [0.291, 0.288, 0.285, 0.281, 0.278, 0.275, 0.27, 0.265, 0.262, 0.261, 0.26, 0.258, 0.256, 0.254, 0.25, 0.247, 0.246, 0.245, 0.243, 0.24, 0.238]],
  ["m", [0.294, 0.291, 0.288, 0.284, 0.281, 0.278, 0.272, 0.266, 0.263, 0.262, 0.261, 0.259, 0.257, 0.255, 0.251, 0.248, 0.246, 0.245, 0.243, 0.241, 0.238]],
  ["g", [0.296, 0.293, 0.289, 0.285, 0.282, 0.279, 0.273, 0.267, 0.264, 0.263, 0.262, 0.26, 0.258, 0.256, 0.252, 0.249, 0.247, 0.246, 0.245, 0.243, 0.24]],
  ["k", [0.305, 0.303, 0.298, 0.295, 0.292, 0.289, 0.281, 0.276, 0.273, 0.271, 0.271, 0.27, 0.269, 0.267, 0.263, 0.257, 0.254, 0.254, 0.254, 0.252, 0.248]],
];

const FONT = '"Liberation Sans", Arial, Helvetica, sans-serif';
const TEXT_COLOR = "#262626";
const AXIS_COLOR = "#858585";
const TICK_LEN = 5;
const PAD_TOP = 12;
const PAD_RIGHT = 12;

// Draws the boxed axes with inward ticks on all four sides, plus the axis titles
const framePlugin = {
  id: "frame",
  afterDatasetsDraw(chart: any, _args: any, opts: any) {
    const { ctx, chartArea: a } = chart;
    const xs = chart.scales.x;
    const ys = chart.scales.y;
    ctx.save();
    ctx.strokeStyle = AXIS_COLOR;
    ctx.lineWidth = 1;
    const L = Math.round(a.left) + 0.5;
    const R = Math.round(a.right) - 0.5;
    const T = Math.round(a.top) + 0.5;
    const B = Math.round(a.bottom) - 0.5;
    ctx.beginPath();
    ctx.rect(L, T, R - L, B - T);
    xs.ticks.forEach((t: any) => {
      const px = Math.round(xs.getPixelForValue(t.value)) + 0.5;
      if (px <= L + 1 || px >= R - 1) return;
      ctx.moveTo(px, B);
      ctx.lineTo(px, B - TICK_LEN);
      ctx.moveTo(px, T);
      ctx.lineTo(px, T + TICK_LEN);
    });
    ys.ticks.forEach((t: any) => {
      const py = Math.round(ys.getPixelForValue(t.value)) + 0.5;
      if (py <= T + 1 || py >= B - 1) return;
      ctx.moveTo(L, py);
      ctx.lineTo(L + TICK_LEN, py);
      ctx.moveTo(R, py);
      ctx.lineTo(R - TICK_LEN, py);
    });
    ctx.stroke();

    ctx.fillStyle = TEXT_COLOR;
    ctx.font = `12px ${FONT}`;
    ctx.textAlign = "center";
    ctx.textBaseline = "middle";
    ctx.fillText(xTitle, (a.left + a.right) / 2, a.bottom + opts.xTitleGap);

    const w1 = ctx.measureText(yTitleMain).width;
    ctx.font = `9px ${FONT}`;
    const w2 = ctx.measureText(yTitleSup).width;
    ctx.translate(a.left - opts.yTitleGap, (a.top + a.bottom) / 2);
    ctx.rotate(-Math.PI / 2);
    ctx.textAlign = "left";
    const x0 = -(w1 + w2) / 2;
    ctx.font = `12px ${FONT}`;
    ctx.fillText(yTitleMain, x0, 0);
    ctx.font = `9px ${FONT}`;
    ctx.fillText(yTitleSup, x0 + w1 + 0.5, -5);
    ctx.restore();
  },
};

interface PanelProps {
  lines: Line[];
  yMax: number;
  yStep: number;
  left: number;
  top: number;
  plotW: number;
  plotH: number;
  axisW: number;
  axisH: number;
  yTitleGap: number;
}

function Panel(p: PanelProps) {
  const ref = useRef<HTMLCanvasElement>(null);
  const w = p.axisW + p.plotW + PAD_RIGHT;
  const h = PAD_TOP + p.plotH + p.axisH;

  useEffect(() => {
    const canvas = ref.current;
    if (!canvas) return;
    const chart = new Chart(canvas, {
      type: "line",
      data: {
        datasets: p.lines.map(([c, vals]) => ({
          data: vals.map((v, i) => ({ x: iterations[i], y: v })),
          borderColor: palette[c],
          borderWidth: 1,
          pointRadius: 0,
          tension: 0,
          fill: false,
        })),
      },
      options: {
        animation: false,
        responsive: false,
        events: [],
        layout: { padding: { top: PAD_TOP, right: PAD_RIGHT, left: 0, bottom: 0 } },
        plugins: {
          legend: { display: false },
          tooltip: { enabled: false },
          frame: { xTitleGap: 19, yTitleGap: p.yTitleGap },
        } as any,
        scales: {
          x: {
            type: "linear",
            min: xTicks.min,
            max: xTicks.max,
            grid: { display: false, drawTicks: false },
            border: { display: false },
            ticks: {
              stepSize: xTicks.step,
              autoSkip: false,
              maxRotation: 0,
              padding: 3,
              color: TEXT_COLOR,
              font: { family: FONT, size: 11 },
            },
            afterFit: (s: any) => {
              s.height = p.axisH;
            },
          },
          y: {
            type: "linear",
            min: 0,
            max: p.yMax,
            grid: { display: false, drawTicks: false },
            border: { display: false },
            ticks: {
              stepSize: p.yStep,
              autoSkip: false,
              padding: 3,
              color: TEXT_COLOR,
              font: { family: FONT, size: 11 },
              callback: (v: any) => String(Math.round(Number(v) * 1000) / 1000),
            },
            afterFit: (s: any) => {
              s.width = p.axisW;
            },
          },
        },
      },
      plugins: [framePlugin],
    });
    return () => chart.destroy();
  }, []);

  return (
    <canvas
      ref={ref}
      width={w}
      height={h}
      style={{
        position: "absolute",
        left: p.left - p.axisW,
        top: p.top - PAD_TOP,
        width: w,
        height: h,
      }}
    />
  );
}

export default function App() {
  return (
    <div
      style={{
        position: "absolute",
        left: 0,
        top: 0,
        width: 1115,
        height: 763,
        background: "#ffffff",
        overflow: "hidden",
      }}
    >
      <Panel lines={runA} yMax={1.4} yStep={0.2} left={41} top={10} plotW={468} plotH={327} axisW={41} axisH={30} yTitleGap={24} />
      <Panel lines={runB} yMax={1.4} yStep={0.2} left={631} top={8} plotW={472} plotH={329} axisW={45} axisH={30} yTitleGap={27} />
      <Panel lines={runC} yMax={0.7} yStep={0.1} left={41} top={408} plotW={467} plotH={329} axisW={41} axisH={26} yTitleGap={24} />
      <Panel lines={runD} yMax={0.35} yStep={0.05} left={640} top={409} plotW={462} plotH={327} axisW={50} axisH={27} yTitleGap={33} />
    </div>
  );
}
